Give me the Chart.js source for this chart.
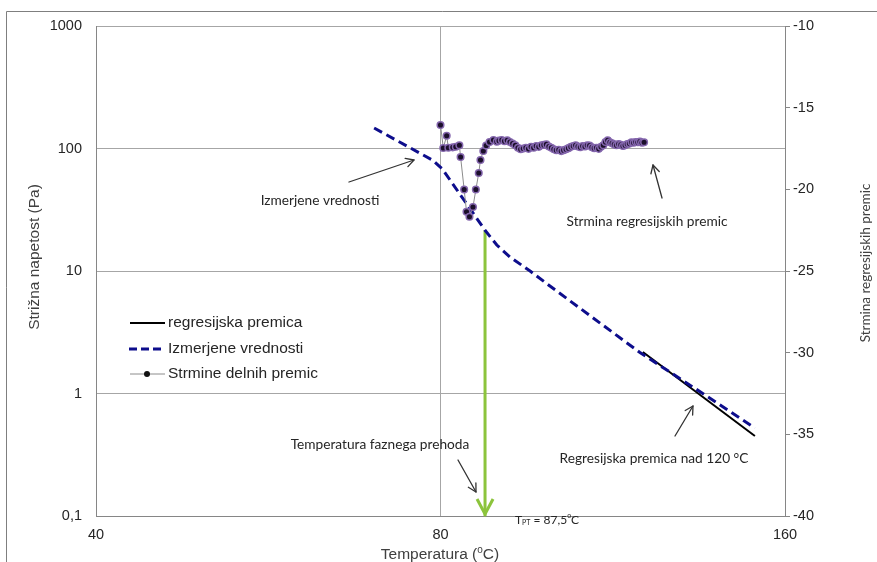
<!DOCTYPE html>
<html>
<head>
<meta charset="utf-8">
<script src="https://cdn.jsdelivr.net/npm/chart.js@4"></script>
<style>
  html, body { margin:0; padding:0; background:#fff; }
  #wrap { width:877px; height:562px; position:relative; }
</style>
</head>
<body>
<div id="wrap"><canvas id="c" width="877" height="562"></canvas></div>
<script>
// axis ticks
const X_TICKS = [40, 80, 160];
const Y_TICKS = [0.1, 1, 10, 100, 1000];

// measured shear stress (dashed blue)
const measuredT   = [70, 78.8, 80.3, 87.5, 89.6, 92.0, 95.8, 99.7, 119.5, 135.6, 150.6];
const measuredTau = [147, 80, 68, 21.5, 16.3, 13.0, 10.0, 7.54, 2.16, 1.0, 0.523];

// regression line above 120 C (black)
const regT   = [120.2, 150.6];
const regTau = [2.18, 0.45];

// phase transition marker (green arrow)
const phaseT   = [87.5, 87.5];
const phaseTau = [21.5, 0.1];

// slopes of partial regression lines (right axis)
const slopeT = [80.0, 80.45, 81.0, 81.27, 82.0, 82.5, 83.1, 83.3, 83.9, 84.3, 84.8, 85.4, 85.9, 86.4, 86.7, 87.2, 87.7, 88.3, 89.0, 89.6,
  90.0, 90.5, 91.0, 91.5, 92.0, 92.5, 93.0, 93.5, 94.0, 94.5, 95.0, 95.5, 96.0, 96.5, 97.0, 97.5, 98.0, 98.5, 99.0, 99.5,
  100.0, 100.5, 101.0, 101.5, 102.0, 102.5, 103.0, 103.5, 104.0, 104.5, 105.0, 105.5, 106.0, 106.5, 107.0, 107.5, 108.0, 108.5, 109.0, 109.5,
  110.0, 110.5, 111.0, 111.5, 112.0, 112.5, 113.0, 113.5, 114.0, 114.5, 115.0, 115.5, 116.0, 116.5, 117.0, 117.5, 118.0, 118.5, 119.0, 119.5,
  120.0, 120.5];
const slopeVal = [-16.06, -17.47, -16.72, -17.45, -17.43, -17.39, -17.30, -18.02, -20.01, -21.37, -21.68, -21.08, -20.01, -19.00, -18.20, -17.65, -17.32, -17.10, -16.98, -17.08,
  -17.02, -16.98, -17.05, -17.00, -17.10, -17.20, -17.30, -17.45, -17.55, -17.50, -17.45, -17.52, -17.40, -17.45, -17.35, -17.40, -17.30, -17.28, -17.25, -17.38,
  -17.45, -17.55, -17.60, -17.58, -17.66, -17.60, -17.55, -17.48, -17.40, -17.35, -17.30, -17.38, -17.42, -17.35, -17.38, -17.30, -17.32, -17.42, -17.48, -17.45,
  -17.52, -17.40, -17.30, -17.10, -17.00, -17.12, -17.18, -17.25, -17.30, -17.22, -17.28, -17.35, -17.30, -17.22, -17.20, -17.12, -17.15, -17.10, -17.12, -17.08,
  -17.15, -17.12];

function pairs(xs, ys){ return xs.map((x, i) => ({ x, y: ys[i] })); }

const TICK_FONT = { family: 'Liberation Sans', size: 14.5 };
const NOTE_FONT = '13.7px Lato';

function arrow(ctx, x1, y1, x2, y2, color, width, head){
  const a = Math.atan2(y2 - y1, x2 - x1);
  ctx.save();
  ctx.strokeStyle = color; ctx.lineWidth = width; ctx.lineCap = 'round'; ctx.lineJoin = 'round';
  ctx.beginPath(); ctx.moveTo(x1, y1); ctx.lineTo(x2, y2); ctx.stroke();
  ctx.beginPath();
  ctx.moveTo(x2 - head * Math.cos(a - 0.5), y2 - head * Math.sin(a - 0.5));
  ctx.lineTo(x2, y2);
  ctx.lineTo(x2 - head * Math.cos(a + 0.5), y2 - head * Math.sin(a + 0.5));
  ctx.stroke();
  ctx.restore();
}

const decorations = {
  id: 'decorations',
  afterDraw(chart){
    const ctx = chart.ctx;
    const xs = chart.scales.x, ys = chart.scales.y;
    ctx.save();

    // outer frame
    ctx.strokeStyle = '#7f7f7f'; ctx.lineWidth = 1;
    ctx.beginPath(); ctx.moveTo(6.5, 600); ctx.lineTo(6.5, 11.5); ctx.lineTo(900, 11.5); ctx.stroke();

    // axis titles
    ctx.fillStyle = '#404040';
    ctx.font = '15.5px "Liberation Sans"';
    ctx.textAlign = 'center'; ctx.textBaseline = 'middle';
    ctx.save(); ctx.translate(35, 257); ctx.rotate(-Math.PI / 2); ctx.fillText('Strižna napetost (Pa)', 0, 0); ctx.restore();

    // bottom title with superscript degree
    ctx.font = '15.5px "Liberation Sans"';
    const t1 = 'Temperatura (', t3 = 'C)';
    ctx.textAlign = 'left';
    const w1 = ctx.measureText(t1).width, w3 = ctx.measureText(t3).width;
    ctx.font = '10px "Liberation Sans"';
    const w2 = ctx.measureText('o').width;
    let bx = 440 - (w1 + w2 + w3) / 2;
    ctx.font = '15.5px "Liberation Sans"'; ctx.fillText(t1, bx, 555); bx += w1;
    ctx.font = '10px "Liberation Sans"'; ctx.fillText('o', bx, 550); bx += w2;
    ctx.font = '15.5px "Liberation Sans"'; ctx.fillText(t3, bx, 555);

    ctx.font = '13.5px Lato'; ctx.textAlign = 'center';
    ctx.save(); ctx.translate(866, 263); ctx.rotate(-Math.PI / 2); ctx.fillText('Strmina regresijskih premic', 0, 0); ctx.restore();

    // green arrow head at the phase transition
    const gx = xs.getPixelForValue(phaseT[1]), gy = ys.getPixelForValue(phaseTau[1]);
    ctx.strokeStyle = '#8cc43c'; ctx.lineWidth = 3; ctx.lineCap = 'butt'; ctx.lineJoin = 'miter';
    ctx.beginPath(); ctx.moveTo(gx - 8, gy - 17); ctx.lineTo(gx, gy - 2); ctx.lineTo(gx + 8, gy - 17); ctx.stroke();

    // annotations
    ctx.fillStyle = '#262626'; ctx.font = NOTE_FONT; ctx.textAlign = 'center'; ctx.textBaseline = 'middle';
    ctx.fillText('Izmerjene vrednosti', 320, 201);
    ctx.fillText('Strmina regresijskih premic', 647, 222);
    ctx.fillText('Temperatura faznega prehoda', 380, 445);
    ctx.fillText('Regresijska premica nad 120 °C', 654, 459);

    // T_PT label
    ctx.textAlign = 'left';
    const small = '12px Lato', tiny = '7px Lato';
    let tx = 515;
    ctx.font = small; ctx.fillText('T', tx, 520); tx += ctx.measureText('T').width;
    ctx.font = tiny; ctx.fillText('PT', tx, 523); tx += ctx.measureText('PT').width;
    ctx.font = small; ctx.fillText(' = 87,5', tx, 520); tx += ctx.measureText(' = 87,5').width;
    ctx.font = tiny; ctx.fillText('o', tx, 516); tx += ctx.measureText('o').width;
    ctx.font = small; ctx.fillText('C', tx, 520);

    arrow(ctx, 349, 182, 414, 160, '#333', 1.3, 9);
    arrow(ctx, 662, 198, 653, 165, '#333', 1.3, 9);
    arrow(ctx, 458, 460, 476, 492, '#333', 1.3, 9);
    arrow(ctx, 675, 436, 693, 406, '#333', 1.3, 9);

    // legend
    const rows = [
      { y: 323, label: 'regresijska premica', draw: y => { ctx.strokeStyle = '#000'; ctx.lineWidth = 2; ctx.setLineDash([]); ctx.beginPath(); ctx.moveTo(130, y); ctx.lineTo(165, y); ctx.stroke(); } },
      { y: 349, label: 'Izmerjene vrednosti', draw: y => { ctx.strokeStyle = '#0d0d8c'; ctx.lineWidth = 3; ctx.setLineDash([8, 4]); ctx.beginPath(); ctx.moveTo(129, y); ctx.lineTo(165, y); ctx.stroke(); ctx.setLineDash([]); } },
      { y: 374, label: 'Strmine delnih premic', draw: y => { ctx.strokeStyle = '#8c8c8c'; ctx.lineWidth = 1; ctx.beginPath(); ctx.moveTo(130, y); ctx.lineTo(165, y); ctx.stroke(); ctx.fillStyle = '#111'; ctx.beginPath(); ctx.arc(147, y, 3, 0, Math.PI * 2); ctx.fill(); } }
    ];
    rows.forEach(r => {
      r.draw(r.y);
      ctx.fillStyle = '#262626'; ctx.font = '15.5px "Liberation Sans"'; ctx.textAlign = 'left'; ctx.textBaseline = 'middle';
      ctx.fillText(r.label, 168, r.y);
    });

    ctx.restore();
  }
};

new Chart(document.getElementById('c').getContext('2d'), {
  type: 'line',
  data: {
    datasets: [
      { label: 'phase', data: pairs(phaseT, phaseTau), borderColor: '#8cc43c', borderWidth: 3, pointRadius: 0, yAxisID: 'y', order: 4 },
      { label: 'regresijska premica', data: pairs(regT, regTau), borderColor: '#000', borderWidth: 2, pointRadius: 0, yAxisID: 'y', order: 3 },
      { label: 'Izmerjene vrednosti', data: pairs(measuredT, measuredTau), borderColor: '#0d0d8c', borderWidth: 3, borderDash: [9, 5], pointRadius: 0, yAxisID: 'y', order: 2 },
      { label: 'Strmine delnih premic', data: pairs(slopeT, slopeVal), borderColor: '#8c8c8c', borderWidth: 1, pointRadius: 3.3, pointBorderWidth: 1.5,
        pointBackgroundColor: '#1b0f2a', pointBorderColor: '#8466ad', yAxisID: 'y2', order: 1 }
    ]
  },
  options: {
    responsive: false,
    animation: false,
    layout: { padding: { top: 26, left: 0, right: 0, bottom: 0 } },
    plugins: { legend: { display: false }, tooltip: { enabled: false } },
    scales: {
      x: {
        type: 'logarithmic', min: 40, max: 160, position: 'bottom',
        afterBuildTicks: s => { s.ticks = X_TICKS.map(v => ({ value: v })); },
        afterFit: s => { s.height = 46; },
        ticks: { font: TICK_FONT, color: '#262626', padding: 10, maxRotation: 0, autoSkip: false, callback: v => String(v) },
        grid: { color: '#a6a6a6', lineWidth: 1, drawTicks: false },
        border: { color: '#868686', width: 1 }
      },
      y: {
        type: 'logarithmic', min: 0.1, max: 1000, position: 'left',
        afterBuildTicks: s => { s.ticks = Y_TICKS.map(v => ({ value: v })); },
        afterFit: s => { s.width = 96; },
        ticks: { font: TICK_FONT, color: '#262626', padding: 14, autoSkip: false, callback: v => String(v).replace('.', ',') },
        grid: { color: '#a6a6a6', lineWidth: 1, drawTicks: false },
        border: { color: '#868686', width: 1 }
      },
      y2: {
        type: 'linear', min: -40, max: -10, position: 'right',
        afterFit: s => { s.width = 92; },
        ticks: { stepSize: 5, font: TICK_FONT, color: '#262626', padding: 3 },
        grid: { drawOnChartArea: false, color: '#868686', tickLength: 5 },
        border: { color: '#868686', width: 1 }
      }
    }
  },
  plugins: [decorations]
});
</script>
</body>
</html>
